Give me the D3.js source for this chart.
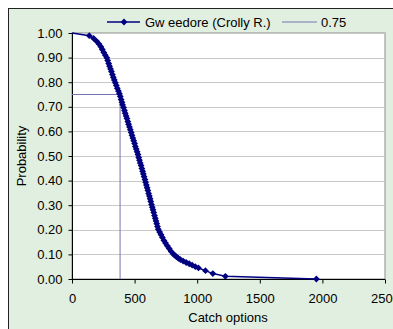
<!DOCTYPE html>
<html>
<head>
<meta charset="utf-8">
<script src="https://cdn.jsdelivr.net/npm/d3@7"></script>
<style>
body{margin:0;background:#fff;}
svg{display:block;font-family:"Liberation Sans",Arial,sans-serif;}
</style>
</head>
<body>
<script>
// catch values (sorted) and their exceedance probability
var catchOpts = [0,138,173,197,216,231,242,254,266,278,285,293,300,308,315,323,330,338,346,354,
  362,371,379,386,392,399,404,412,419,425,432,439,446,452,459,466,473,479,486,493,
  500,506,513,520,527,533,539,545,552,558,564,570,576,583,588,594,600,606,612,618,
  624,629,635,641,647,653,659,665,671,677,683,689,700,711,722,734,747,761,776,792,
  810,822,835,850,866,888,912,936,960,985,1010,1066,1125,1225,1952];
var probs = [1.000,0.989,0.978,0.966,0.955,0.944,0.933,0.921,0.910,0.899,0.888,0.876,0.865,0.854,0.843,0.831,0.820,0.809,0.798,0.787,
  0.775,0.764,0.753,0.742,0.730,0.719,0.708,0.697,0.685,0.674,0.663,0.652,0.640,0.629,0.618,0.607,0.596,0.584,0.573,0.562,
  0.551,0.539,0.528,0.517,0.506,0.494,0.483,0.472,0.461,0.449,0.438,0.427,0.416,0.404,0.393,0.382,0.371,0.360,0.348,0.337,
  0.326,0.315,0.303,0.292,0.281,0.270,0.258,0.247,0.236,0.225,0.213,0.202,0.191,0.180,0.169,0.157,0.146,0.135,0.124,0.112,
  0.101,0.096,0.090,0.084,0.079,0.073,0.067,0.062,0.056,0.050,0.045,0.034,0.022,0.011,0.000];
var refX = [0,384,384];
var refY = [0.75,0.75,0];
var xTicks = [0,500,1000,1500,2000,2500];
var yTicks = [0,0.1,0.2,0.3,0.4,0.5,0.6,0.7,0.8,0.9,1.0];
var seriesName = "Gw eedore (Crolly R.)";
var refName = "0.75";

var W = 393, H = 329;
var svg = d3.select("body").append("svg").attr("width", W).attr("height", H);

// chart area background
svg.append("rect").attr("x", 8.5).attr("y", 8.5).attr("width", 400).attr("height", 400)
  .attr("fill", "#e0efdf").attr("stroke", "#222").attr("stroke-width", 1);

var pLeft = 72, pRight = 385, pTop = 33, pBottom = 279;
var x = d3.scaleLinear().domain([0, 2500]).range([pLeft, pRight]);
var y = d3.scaleLinear().domain([0, 1]).range([pBottom, pTop]);

svg.append("rect").attr("x", pLeft).attr("y", pTop).attr("width", pRight - pLeft).attr("height", pBottom - pTop)
  .attr("fill", "#fff").attr("stroke", "#8c8c8c").attr("stroke-width", 1);

// gridlines
svg.append("g").selectAll("line").data(yTicks.filter(function(d){return d > 0;})).enter().append("line")
  .attr("x1", pLeft).attr("x2", pRight)
  .attr("y1", function(d){return Math.round(y(d)) + 0.5;})
  .attr("y2", function(d){return Math.round(y(d)) + 0.5;})
  .attr("stroke", "#c8c8c8").attr("stroke-width", 1);

// axes
var yAxis = d3.axisLeft(y).tickValues(yTicks).tickFormat(d3.format(".2f")).tickSize(4).tickPadding(6);
var gy = svg.append("g").attr("transform", "translate(" + (pLeft + 0.5) + ",0)").call(yAxis);
var xAxis = d3.axisBottom(x).tickValues(xTicks).tickFormat(d3.format("d")).tickSize(4).tickPadding(10);
var gx = svg.append("g").attr("transform", "translate(0," + (pBottom + 0.5) + ")").call(xAxis);
[gx, gy].forEach(function(g){
  g.selectAll("path").attr("stroke", "#000");
  g.selectAll("line").attr("stroke", "#000");
  g.selectAll("text").attr("font-size", "13px").attr("fill", "#000").attr("font-family", "Liberation Sans, Arial, sans-serif");
});
gy.select(".domain").attr("d", "M0," + pTop + "V" + pBottom);
gx.select(".domain").attr("d", "M" + pLeft + ",0H" + pRight);

// reference line 0.75
var line = d3.line().x(function(d){return x(d[0]);}).y(function(d){return y(d[1]);});
svg.append("path").datum(d3.zip(refX, refY)).attr("d", line)
  .attr("fill", "none").attr("stroke", "#7676b2").attr("stroke-width", 1);

// main series
var pts = d3.zip(catchOpts, probs);
svg.append("path").datum(pts).attr("d", line)
  .attr("fill", "none").attr("stroke", "#000080").attr("stroke-width", 1.5);
var dia = "M0,-3.4L3.4,0L0,3.4L-3.4,0Z";
svg.append("g").selectAll("path").data(pts.slice(1)).enter().append("path")
  .attr("d", dia)
  .attr("transform", function(d){return "translate(" + x(d[0]) + "," + y(d[1]) + ")";})
  .attr("fill", "#000080");

// axis titles
svg.append("text").attr("x", 228).attr("y", 321.5).attr("text-anchor", "middle")
  .attr("font-size", "13px").text("Catch options");
svg.append("text").attr("transform", "translate(26,156) rotate(-90)").attr("text-anchor", "middle")
  .attr("font-size", "13px").text("Probability");

// legend
var lg = svg.append("g");
lg.append("line").attr("x1", 107).attr("x2", 140).attr("y1", 22).attr("y2", 22)
  .attr("stroke", "#000080").attr("stroke-width", 1.5);
lg.append("path").attr("d", dia).attr("transform", "translate(124,22)").attr("fill", "#000080");
lg.append("text").attr("x", 145).attr("y", 26.5).attr("font-size", "13px").text(seriesName);
lg.append("line").attr("x1", 282).attr("x2", 317).attr("y1", 22).attr("y2", 22)
  .attr("stroke", "#7676b2").attr("stroke-width", 1);
lg.append("text").attr("x", 321).attr("y", 26.5).attr("font-size", "13px").text(refName);
</script>
</body>
</html>
